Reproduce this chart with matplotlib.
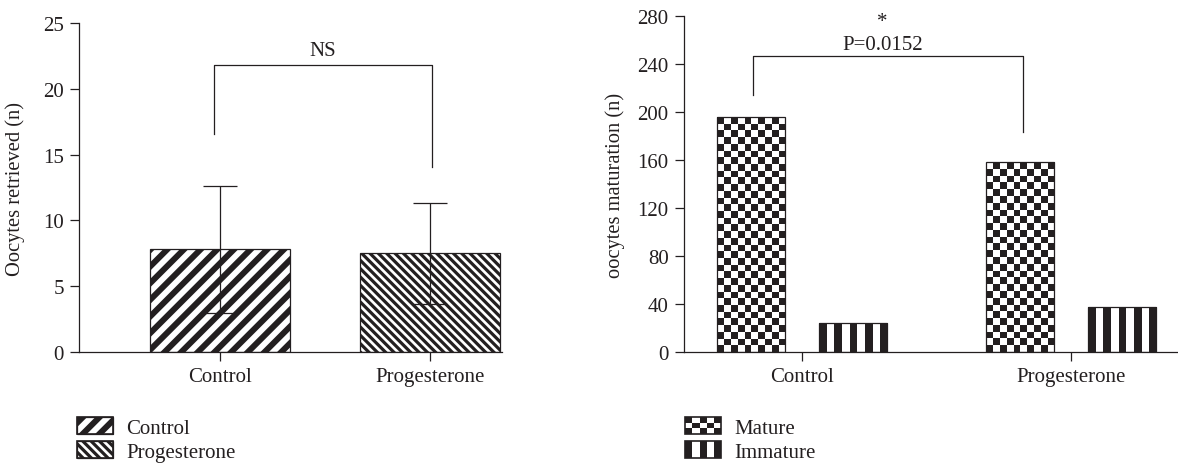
import matplotlib
matplotlib.use('Agg')
import matplotlib.pyplot as plt
import numpy as np
from matplotlib.patches import Rectangle, Patch
from matplotlib.colors import ListedColormap
from matplotlib.legend_handler import HandlerBase

plt.rcParams['font.family'] = ['Liberation Serif', 'DejaVu Serif']
plt.rcParams['font.size'] = 15

INK = '#231f20'

# data
categories = ['Control', 'Progesterone']
retrieved_mean = [7.8, 7.5]
retrieved_sd = [4.85, 3.85]
mature = [196, 158]
immature = [24, 37]
left_yticks = [0, 5, 10, 15, 20, 25]
right_yticks = [0, 40, 80, 120, 160, 200, 240, 280]

CTRL_HATCH, CTRL_LW = '//', 4.3
PROG_HATCH, PROG_LW = '\\\\\\\\', 2.3


def hatched_rect(xy, w, h, hatch, hlw, **kw):
    plt.rcParams['hatch.linewidth'] = hlw
    r = Rectangle(xy, w, h, facecolor='white', edgecolor=INK, hatch=hatch, lw=0.9, **kw)
    if hasattr(r, 'set_hatch_linewidth'):
        r.set_hatch_linewidth(hlw)
    return r


class PatternHandler(HandlerBase):
    def __init__(self, kind):
        super().__init__()
        self.kind = kind

    def create_artists(self, legend, orig_handle, xdescent, ydescent,
                       width, height, fontsize, trans):
        x0, y0 = -xdescent, -ydescent
        arts = []
        if self.kind == 'control':
            arts.append(hatched_rect((x0, y0), width, height, CTRL_HATCH, CTRL_LW, transform=trans))
        elif self.kind == 'prog':
            arts.append(hatched_rect((x0, y0), width, height, PROG_HATCH, PROG_LW, transform=trans))
        elif self.kind == 'mature':
            nx, ny = 5, 3
            for i in range(nx):
                for j in range(ny):
                    if (i + j) % 2 == 0:
                        arts.append(Rectangle((x0 + i * width / nx, y0 + j * height / ny),
                                              width / nx, height / ny, facecolor=INK,
                                              edgecolor='none', transform=trans))
        elif self.kind == 'immature':
            nx = 5
            for i in range(0, nx, 2):
                arts.append(Rectangle((x0 + i * width / nx, y0), width / nx, height,
                                      facecolor=INK, edgecolor='none', transform=trans))
        arts.append(Rectangle((x0, y0), width, height, facecolor='none',
                              edgecolor=INK, lw=1.2, transform=trans))
        return arts


def style_axes(ax):
    for s in ['top', 'right']:
        ax.spines[s].set_visible(False)
    for s in ['left', 'bottom']:
        ax.spines[s].set_color(INK)
        ax.spines[s].set_linewidth(0.9)
    ax.tick_params(axis='both', direction='out', length=6.5, width=0.9,
                   colors=INK, labelsize=15)
    ax.tick_params(axis='y', pad=4.5)
    ax.tick_params(axis='x', pad=4.5)


fig = plt.figure(figsize=(11.78, 4.64), dpi=100)

# ---- left panel ----
ax1 = fig.add_axes([0.06706, 0.23987, 0.35908, 0.70776])
x1 = np.arange(len(categories))
w1 = 0.667
ax1.add_patch(hatched_rect((x1[0] - w1 / 2, 0), w1, retrieved_mean[0], CTRL_HATCH, CTRL_LW, zorder=1))
ax1.add_patch(hatched_rect((x1[1] - w1 / 2, 0), w1, retrieved_mean[1], PROG_HATCH, PROG_LW, zorder=1))
ax1.errorbar(x1, retrieved_mean, yerr=retrieved_sd, fmt='none', ecolor=INK,
             elinewidth=0.9, capsize=12.5, capthick=0.9, zorder=3)
ax1.plot([-0.03, -0.03, 1.01, 1.01], [16.6, 21.8, 21.8, 14.05], color=INK, lw=0.9)
ax1.text(0.49, 22.9, 'NS', ha='center', va='center', fontsize=15, color=INK)
ax1.set_xlim(-0.671, 1.343)
ax1.set_ylim(0, 25)
ax1.set_yticks(left_yticks)
ax1.set_xticks(x1)
ax1.set_xticklabels(categories)
ax1.set_ylabel('Oocytes retrieved (n)', fontsize=14.8, color=INK)
ax1.yaxis.set_label_coords(-0.128, 0.5)
style_axes(ax1)

# ---- right panel ----
ax2 = fig.add_axes([0.58065, 0.23987, 0.41935, 0.72284])
ax2.set_xlim(-0.4387, 1.398)
ax2.set_ylim(0, 280)
x2 = np.arange(len(categories))
w2 = 0.253
off = 0.19
mat_bars = ax2.bar(x2 - off, mature, width=w2, facecolor='none', edgecolor=INK, lw=0.9, zorder=2)
imm_bars = ax2.bar(x2 + off, immature, width=w2, facecolor='none', edgecolor=INK, lw=0.9, zorder=2)

cmap = ListedColormap(['white', INK])
px_per_unit = ax2.transData.transform((0, 1))[1] - ax2.transData.transform((0, 0))[1]
bar_px = ax2.transData.transform((w2, 0))[0] - ax2.transData.transform((0, 0))[0]
cell_px = bar_px / 10
for b in mat_bars:
    h = b.get_height()
    ny = max(1, int(round(h * px_per_unit / cell_px)))
    ii, jj = np.meshgrid(np.arange(10), np.arange(ny))
    arr = ((ii + jj) % 2 == 0).astype(float)
    ax2.imshow(arr, cmap=cmap, vmin=0, vmax=1, origin='lower', aspect='auto',
               interpolation='nearest', zorder=1,
               extent=[b.get_x(), b.get_x() + b.get_width(), 0, h])
for b in imm_bars:
    h = b.get_height()
    arr = (np.arange(9) % 2 == 0).astype(float)[None, :]
    ax2.imshow(arr, cmap=cmap, vmin=0, vmax=1, origin='lower', aspect='auto',
               interpolation='nearest', zorder=1,
               extent=[b.get_x(), b.get_x() + b.get_width(), 0, h])

ax2.plot([-0.184, -0.184, 0.82, 0.82], [214.3, 246.6, 246.6, 183.6], color=INK, lw=0.9)
ax2.text(0.3, 276.0, '*', ha='center', va='center', fontsize=15, color=INK)
ax2.text(0.3, 256.5, 'P=0.0152', ha='center', va='center', fontsize=15, color=INK)
ax2.set_xlim(-0.4387, 1.398)
ax2.set_ylim(0, 280)
ax2.set_yticks(right_yticks)
ax2.set_xticks(x2)
ax2.set_xticklabels(categories)
ax2.set_ylabel('oocytes maturation (n)', fontsize=14.8, color=INK)
ax2.yaxis.set_label_coords(-0.12, 0.5)
style_axes(ax2)

# ---- legends ----
h_ctrl, h_prog = Patch(), Patch()
h_mat, h_imm = Patch(), Patch()
leg_kw = dict(loc='upper left', frameon=False, borderpad=0, borderaxespad=0,
              handlelength=1.75, handleheight=0.85, handletextpad=0.6,
              labelspacing=0.18, fontsize=15, labelcolor=INK)
leg1 = fig.legend([h_ctrl, h_prog], ['Control', 'Progesterone'],
                  bbox_to_anchor=(0.0654, 0.099),
                  handler_map={h_ctrl: PatternHandler('control'), h_prog: PatternHandler('prog')},
                  **leg_kw)
leg2 = fig.legend([h_mat, h_imm], ['Mature', 'Immature'],
                  bbox_to_anchor=(0.5815, 0.099),
                  handler_map={h_mat: PatternHandler('mature'), h_imm: PatternHandler('immature')},
                  **leg_kw)

fig.savefig('out.png', dpi=100)
